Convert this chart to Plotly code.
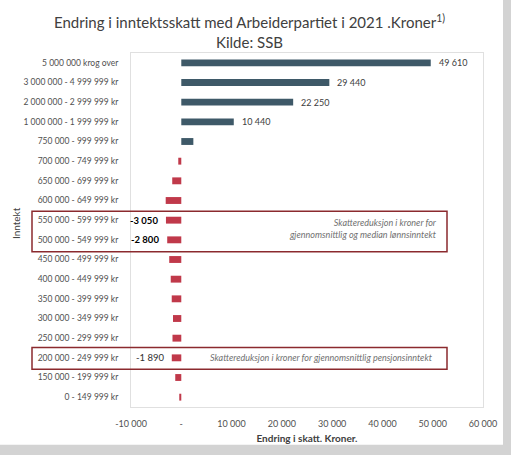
import plotly.graph_objects as go

categories = ["5 000 000 krog over", "3 000 000 - 4 999 999 kr", "2 000 000 - 2 999 999 kr",
              "1 000 000 - 1 999 999 kr", "750 000 - 999 999 kr", "700 000 - 749 999 kr",
              "650 000 - 699 999 kr", "600 000 - 649 999 kr", "550 000 - 599 999 kr",
              "500 000 - 549 999 kr", "450 000 - 499 999 kr", "400 000 - 449 999 kr",
              "350 000 - 399 999 kr", "300 000 - 349 999 kr", "250 000 - 299 999 kr",
              "200 000 - 249 999 kr", "150 000 - 199 999 kr", "0 - 149 999 kr"]
values = [49610, 29440, 22250, 10440, 2400, -600, -1800, -3100, -3050, -2800,
          -2400, -2100, -1900, -1650, -1750, -1890, -1200, -400]
pos_labels = {0: "49 610", 1: "29 440", 2: "22 250", 3: "10 440"}
neg_labels = {8: ("-3 050", True), 9: ("-2 800", True), 15: ("-1 890", False)}
tick_vals = [-10000, 0, 10000, 20000, 30000, 40000, 50000, 60000]
tick_text = ["-10 000", "-", "10 000", "20 000", "30 000", "40 000", "50 000", "60 000"]

BLUE = "#3e5968"
RED = "#c0394a"
FONT = "Lato"

colors = [BLUE if v >= 0 else RED for v in values]

fig = go.Figure(go.Bar(
    y=categories, x=values, orientation="h",
    marker=dict(color=colors, line=dict(width=0)),
    hoverinfo="skip",
))

L, R, T, B = 131, 28, 53, 46
pw = 511 - L - R
ph = 455 - T - B
def px2paper(px):
    return (px - L) / pw
def py2paper(py):
    return 1 - (py - T) / ph

ann = []
for i, t in pos_labels.items():
    ann.append(dict(x=values[i], y=categories[i], xref="x", yref="y", text=t, showarrow=False,
                    xanchor="left", xshift=6, font=dict(family=FONT, size=9, color="#404040")))
for i, (t, bold) in neg_labels.items():
    ann.append(dict(x=values[i], y=categories[i], xref="x", yref="y",
                    text=f"<b>{t}</b>" if bold else t, showarrow=False,
                    xanchor="right", xshift=-6,
                    font=dict(family=FONT, size=9.5, color="#000000" if bold else "#303030")))
ann.append(dict(x=51200, y=8.43, xref="x", yref="y", showarrow=False, xanchor="right", align="right",
                text="<i>Skattereduksjon i kroner for<br>gjennomsnittlig og median lønnsinntekt</i>",
                font=dict(family=FONT, size=9, color="#707070")))
ann.append(dict(x=27800, y=15, xref="x", yref="y", showarrow=False, xanchor="center",
                text="<i>Skattereduksjon i kroner for gjennomsnittlig pensjonsinntekt</i>",
                font=dict(family=FONT, size=9, color="#707070")))
ann.append(dict(x=px2paper(249), y=py2paper(31), xref="paper", yref="paper", yanchor="middle",
                showarrow=False,
                text="Endring i inntektsskatt med Arbeiderpartiet i 2021 .Kroner<sup>1)</sup><br>Kilde: SSB",
                font=dict(family=FONT, size=15, color="#404040")))
ann.append(dict(x=px2paper(20), y=py2paper(224), xref="paper", yref="paper", textangle=-90,
                xanchor="right", xshift=4,
                showarrow=False, text="Inntekt", font=dict(family=FONT, size=10, color="#404040")))

shapes = [
    dict(type="rect", xref="paper", yref="paper", layer="below",
         x0=px2paper(-10), x1=px2paper(503), y0=py2paper(447), y1=py2paper(-10),
         fillcolor="white", line=dict(width=0)),
    dict(type="rect", xref="paper", yref="y", x0=px2paper(32), x1=px2paper(447), y0=7.55, y1=9.6,
         line=dict(color="#8b2a2e", width=1.5)),
    dict(type="rect", xref="paper", yref="y", x0=px2paper(32), x1=px2paper(447), y0=14.47, y1=15.58,
         line=dict(color="#8b2a2e", width=1.5)),
]

fig.update_layout(
    width=511, height=455,
    margin=dict(l=L, r=R, t=T, b=B),
    paper_bgcolor="#d3d3d3", plot_bgcolor="white",
    bargap=0.65, showlegend=False,
    font=dict(family=FONT, size=9, color="#404040"),
    annotations=ann, shapes=shapes,
    xaxis=dict(range=[-10000, 60000], tickvals=tick_vals, ticktext=tick_text,
               showgrid=False, zeroline=False, showline=True, mirror=True, linecolor="#e0e0e0",
               linewidth=1, ticks="outside", ticklen=8, tickcolor="rgba(0,0,0,0)",
               tickfont=dict(family=FONT, size=9, color="#505050"),
               title=dict(text="<b>Endring i skatt. Kroner.</b>", standoff=7,
                          font=dict(family=FONT, size=10, color="#404040"))),
    yaxis=dict(autorange=False, range=[17.5, -0.5], showgrid=False, zeroline=False,
               showline=True, mirror=True, linecolor="#e0e0e0", linewidth=1,
               ticks="outside", ticklen=10, tickcolor="rgba(0,0,0,0)",
               tickfont=dict(family=FONT, size=8.5, color="#505050")),
)

fig.write_html("out.html")
